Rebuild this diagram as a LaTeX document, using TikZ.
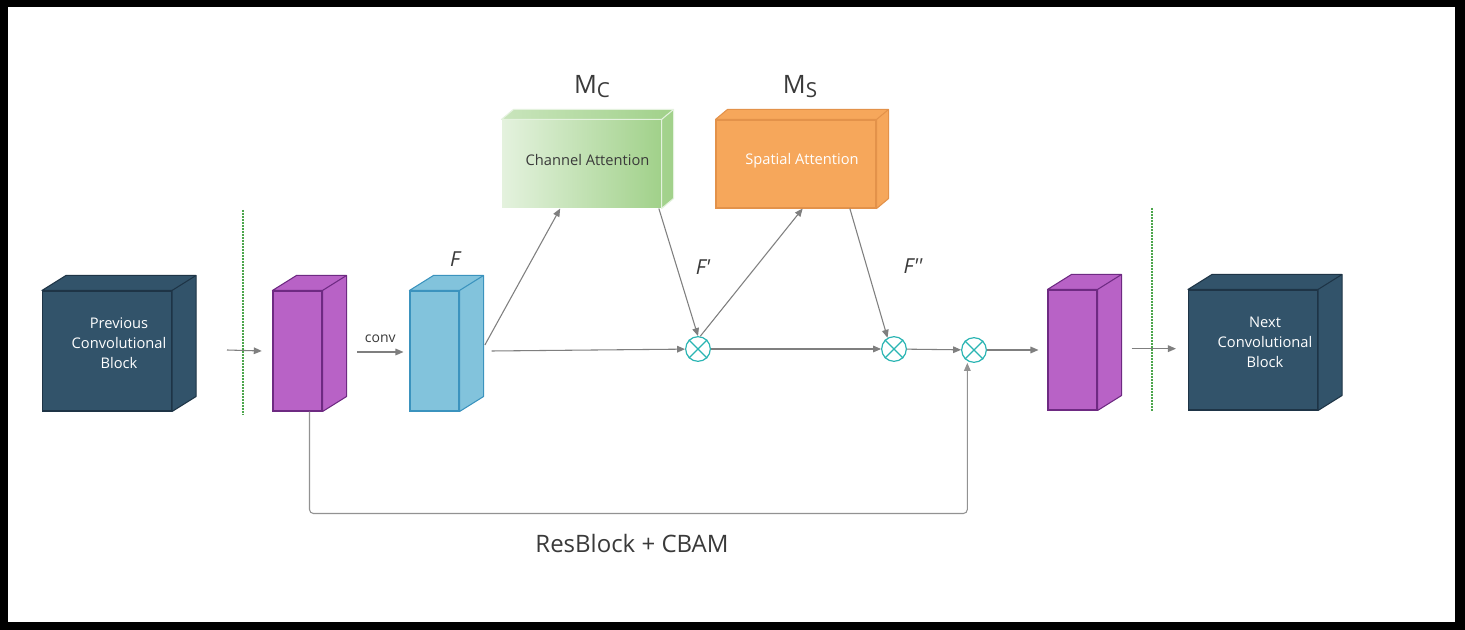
\documentclass[tikz,border=0pt]{standalone}
\usepackage{fontspec}
\setmainfont{Open Sans}
\usetikzlibrary{shapes.geometric, arrows.meta, calc}
\definecolor{blockblue}{HTML}{32536A}
\definecolor{blockline}{HTML}{1E3446}
\definecolor{featpurple}{HTML}{B862C6}
\definecolor{purpleline}{HTML}{6E2A82}
\definecolor{featblue}{HTML}{82C3DC}
\definecolor{blueline}{HTML}{3B93BE}
\definecolor{attorange}{HTML}{F6A75B}
\definecolor{orangeline}{HTML}{E3924A}
\definecolor{greenL}{HTML}{E4F2DE}
\definecolor{greenR}{HTML}{A1D18A}
\definecolor{greenline}{HTML}{E4F2DE}
\definecolor{multteal}{HTML}{2AB5B3}
\definecolor{arrowgray}{HTML}{7F7F7F}
\definecolor{sepgreen}{HTML}{4CA64C}
\definecolor{labelgray}{HTML}{3A3A3A}
\tikzstyle{cube} = [rectangle, inner sep=0pt, line width=0.8pt]
\tikzstyle{block} = [cube, minimum width=96.75pt, minimum height=90pt, fill=blockblue, draw=blockline]
\tikzstyle{feature} = [cube, minimum width=36.75pt, minimum height=90pt]
\tikzstyle{attention} = [cube, minimum width=120pt, minimum height=66pt]
\tikzstyle{mult} = [circle, minimum size=18.5pt, inner sep=0pt, draw=multteal, fill=white, line width=0.9pt]
\tikzstyle{arrow} = [line width=0.8pt, draw=arrowgray, ->, >={Triangle[length=6pt,width=5pt]}]
\tikzstyle{resline} = [arrow, draw=arrowgray!85, rounded corners=3pt]
\tikzstyle{sepline} = [line width=0.8pt, draw=sepgreen, dash pattern=on 1.5pt off 0.75pt]
\tikzstyle{boxtext} = [align=center, font=\fontsize{11}{15}\selectfont]
\tikzstyle{featlabel} = [text=labelgray, font=\fontsize{15.5}{15.5}\selectfont\itshape]
\tikzstyle{maplabel} = [text=labelgray, font=\fontsize{19}{19}\selectfont]
% top and side faces of a box drawn behind its front node
\newcommand{\cubedepth}[5]{%
  \draw[#4, draw=#5, line width=0.8pt, line join=round] (#1.north west) -- ++(#2,#3) -- ($(#1.north east)+(#2,#3)$) -- ($(#1.south east)+(#2,#3)$) -- (#1.south east) -- (#1.north east) -- cycle;
  \draw[draw=#5, line width=0.8pt] (#1.north east) -- ++(#2,#3);
}
\begin{document}
\begin{tikzpicture}[x=0.75pt, y=-0.75pt]
        \fill[black] (0,0) rectangle (1465,630);
        \fill[white] (8,7) rectangle (1455,622);
        \useasboundingbox (0,0) rectangle (1465,630);

        \node (prev) [block] at (107,351) {};
        \cubedepth{prev}{24}{-15}{fill=blockblue}{blockline}
        \node (prevt) [boxtext, text=white] at ($(prev)+(12,-8)$) {Previous\\Convolutional\\Block};
        \node (pa) [feature, fill=featpurple, draw=purpleline] at (297.5,351) {};
        \cubedepth{pa}{24}{-15}{fill=featpurple}{purpleline}
        \node (fb) [feature, fill=featblue, draw=blueline] at (434.5,351) {};
        \cubedepth{fb}{24}{-15}{fill=featblue}{blueline}
        \node (ca) [attention, minimum width=119.25pt, left color=greenL, right color=greenR, draw=none] at (581.5,164) {};
        \cubedepth{ca}{12}{-10}{left color=greenL!60!greenR, right color=greenR}{greenline}
        \node (cat) [boxtext, text=labelgray] at ($(ca)+(6,-4)$) {Channel Attention};
        \node (sa) [attention, fill=attorange, draw=orangeline] at (796,164) {};
        \cubedepth{sa}{12}{-10}{fill=attorange}{orangeline}
        \node (sat) [boxtext, text=white] at ($(sa)+(6,-3)$) {Spatial Attention};
        \node (pb) [feature, fill=featpurple, draw=purpleline] at (1072.5,350) {};
        \cubedepth{pb}{24}{-15}{fill=featpurple}{purpleline}
        \node (next) [block] at (1253,350) {};
        \cubedepth{next}{24}{-15}{fill=blockblue}{blockline}
        \node (nextt) [boxtext, text=white] at ($(next)+(12,-8)$) {Next\\Convolutional\\Block};

        \node (m1) [mult] at (698,349) {};
        \node (m2) [mult] at (894,349) {};
        \node (m3) [mult] at (974,350) {};
        \foreach \m in {m1,m2,m3} {
            \draw[multteal, line width=0.9pt] (\m.45) -- (\m.225) (\m.135) -- (\m.315);
        }

        \node (mc) [maplabel] at (592,87) {M\raisebox{-3pt}{\fontsize{15.5}{15.5}\selectfont C}};
        \node (ms) [maplabel] at (800,87) {M\raisebox{-3pt}{\fontsize{15.5}{15.5}\selectfont S}};
        \node (lf) [featlabel] at (455,259) {F};
        \node (lf1) [featlabel] at (703,267) {F\textquotesingle};
        \node (lf2) [featlabel] at (913,266) {F\textquotesingle\textquotesingle};
        \node (title) [text=labelgray, font=\fontsize{18}{18}\selectfont] at (632,544) {ResBlock + CBAM};

        \coordinate (sep1a) at (243,210);
        \coordinate (sep1b) at (243,415);
        \coordinate (sep2a) at (1152,208);
        \coordinate (sep2b) at (1152,412);
        \draw[sepline] (sep1a) -- (sep1b);
        \draw[sepline] (sep2a) -- (sep2b);
        \coordinate (in) at (227,350);

        \draw[arrow] (in) -- ([xshift=-8pt]pa.west);
        \draw[arrow] ([xshift=26pt,yshift=-0.75pt]pa.east) --node[above, text=labelgray, font=\fontsize{10.5}{10.5}\selectfont, yshift=3pt]{conv} ([xshift=-4.5pt,yshift=-0.75pt]fb.west);
        \draw[arrow] ([xshift=24pt]fb.east) -- (m1);
        \draw[arrow] ([xshift=19pt,yshift=4.5pt]fb.east) -- ([xshift=-16pt]ca.south);
        \draw[arrow] ([xshift=-2pt]ca.south east) -- (m1.north);
        \draw[arrow] (m1.80) -- ([xshift=5pt]sa.south);
        \draw[arrow] ([xshift=-20pt]sa.south east) -- (m2.120);
        \draw[arrow] (m1) -- (m2);
        \draw[arrow] (m2) -- (m3);
        \draw[arrow] (m3) -- ([xshift=-6.75pt]pb.west);
        \draw[arrow] ([xshift=25.5pt,yshift=1pt]pb.east) -- ([xshift=-9pt,yshift=1pt]next.west);
        \draw[resline] ([xshift=9pt]pa.south) -- ++(0,102) -| ([xshift=-5pt]m3.south);
    \end{tikzpicture}
\end{document}
